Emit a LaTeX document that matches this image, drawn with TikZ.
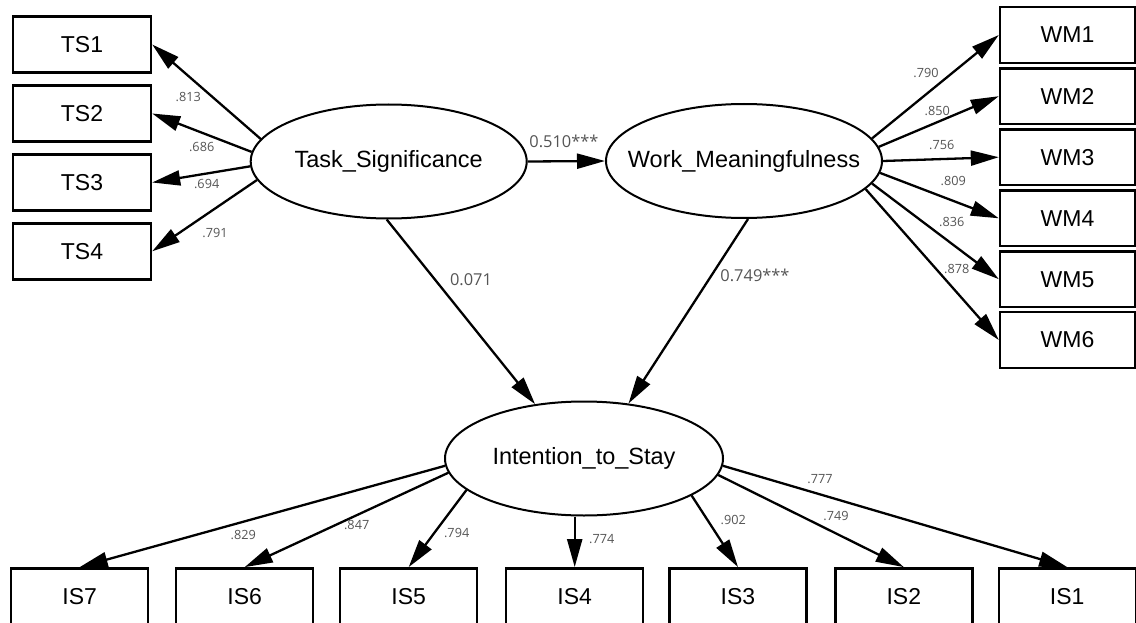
\documentclass[tikz,border=0pt]{standalone}
\usepackage{fontspec}
\setmainfont{Liberation Sans}
\newfontfamily\coeffont{Open Sans}
\usetikzlibrary{arrows.meta,shapes.geometric}
\definecolor{coefgray}{RGB}{85,85,85}

\begin{document}
\begin{tikzpicture}[x=1pt,y=-1pt,
  obs/.style={draw, line width=2.4pt, rectangle, minimum width=137pt,
    minimum height=56pt, inner sep=0pt, font=\fontsize{23}{24}\selectfont},
  latent/.style={draw, line width=2pt, ellipse, inner sep=0pt,
    minimum width=276pt, minimum height=114pt, font=\fontsize{23.5}{25}\selectfont},
  arr/.style={line width=2.3pt, -{Triangle[length=28pt,width=15pt]}},
  coef/.style={text=coefgray, inner sep=0pt, font=\coeffont\fontsize{12.7}{14}\selectfont},
  bigcoef/.style={text=coefgray, inner sep=0pt, font=\coeffont\fontsize{16.4}{18}\selectfont}]

% canvas
\fill[white] (0,0) rectangle (1136,623);
\useasboundingbox (0,0) rectangle (1136,623);

% latent variables
\node[latent] (ts) at (388.7,161.5) {\makebox[0pt]{Task\_Significance}};
\node[latent] (wm) at (744,161) {\makebox[0pt]{Work\_Meaningfulness}};
\node[latent, minimum width=278pt] (it) at (584,458.5) {\makebox[0pt]{Intention\_to\_Stay}};

% Task significance indicators
\node[obs, minimum width=138pt] (ts1) at (82,44.5) {TS1};
\node[obs, minimum width=138pt] (ts2) at (82,113.5) {TS2};
\node[obs, minimum width=138pt] (ts3) at (82,182.5) {TS3};
\node[obs, minimum width=138pt] (ts4) at (82,251.3) {TS4};

% Work meaningfulness indicators
\node[obs, minimum width=135pt, minimum height=55.5pt] (wm1) at (1067.5,35) {WM1};
\node[obs, minimum width=135pt, minimum height=55.5pt] (wm2) at (1067.5,96.2) {WM2};
\node[obs, minimum width=135pt, minimum height=55.5pt] (wm3) at (1067.5,157.2) {WM3};
\node[obs, minimum width=135pt, minimum height=55.5pt] (wm4) at (1067.5,218.3) {WM4};
\node[obs, minimum width=135pt, minimum height=55.5pt] (wm5) at (1067.5,279.2) {WM5};
\node[obs, minimum width=135pt, minimum height=55.5pt] (wm6) at (1067.5,340) {WM6};

% Intention to stay indicators
\node[obs, minimum height=57pt] (is7) at (79.7,596.8) {IS7};
\node[obs, minimum height=57pt] (is6) at (244.7,596.8) {IS6};
\node[obs, minimum height=57pt] (is5) at (408.7,596.8) {IS5};
\node[obs, minimum height=57pt] (is4) at (574.7,596.8) {IS4};
\node[obs, minimum height=57pt] (is3) at (738,596.8) {IS3};
\node[obs, minimum height=57pt] (is2) at (903.8,596.8) {IS2};
\node[obs, minimum height=57pt] (is1) at (1067.2,596.8) {IS1};

% structural paths
\draw[arr] (ts.east) -- (wm.west);
\draw[arr] (ts.268) -- (it.132.6);
\draw[arr] (wm.274) -- (it.51.8);

% loadings
\draw[arr] (ts.170.5) -- (ts1.east);
\draw[arr] (ts.176) -- (ts2.east);
\draw[arr] (ts.182) -- (ts3.east);
\draw[arr] (ts.188.6) -- (ts4.east);

\draw[arr] (wm.10.6) -- (wm1.west);
\draw[arr] (wm.6) -- (wm2.west);
\draw[arr] (wm.0) -- (wm3.west);
\draw[arr] (wm.355.6) -- (wm4.west);
\draw[arr] (wm.350.9) -- (wm5.west);
\draw[arr] (wm.347.5) -- (wm6.west);

\draw[arr] (it.183) -- (is7.north);
\draw[arr] (it.186.5) -- (is6.north);
\draw[arr] (it.195.5) -- (is5.north);
\draw[arr] (is4.north |- it.south) -- (is4.north);
\draw[arr] (it.341.3) -- (is3.north);
\draw[arr] (it.353) -- (is2.north);
\draw[arr] (it.357) -- (is1.north);

% coefficients
\node[bigcoef] (c1) at (564,141) {0.510***};
\node[bigcoef] (c2) at (471,280) {0.071};
\node[bigcoef] (c3) at (755,275) {0.749***};

\node[coef] (l813) at (188.3,96.7) {.813};
\node[coef] (l686) at (201.7,146.7) {.686};
\node[coef] (l694) at (206.7,184) {.694};
\node[coef] (l791) at (215,233.3) {.791};

\node[coef] (l790) at (926,72.7) {.790};
\node[coef] (l850) at (937.3,111) {.850};
\node[coef] (l756) at (941.7,145) {.756};
\node[coef] (l809) at (953.3,181) {.809};
\node[coef] (l836) at (951.7,221.7) {.836};
\node[coef, fill=white, inner sep=1pt] (l878) at (956.7,269.3) {.878};

\node[coef] (l829) at (243.3,535) {.829};
\node[coef] (l847) at (356.7,525) {.847};
\node[coef] (l794) at (456.7,533.3) {.794};
\node[coef] (l774) at (601.7,539.3) {.774};
\node[coef] (l902) at (733.3,520) {.902};
\node[coef] (l749) at (836,516) {.749};
\node[coef] (l777) at (820,479.3) {.777};
\end{tikzpicture}
\end{document}
